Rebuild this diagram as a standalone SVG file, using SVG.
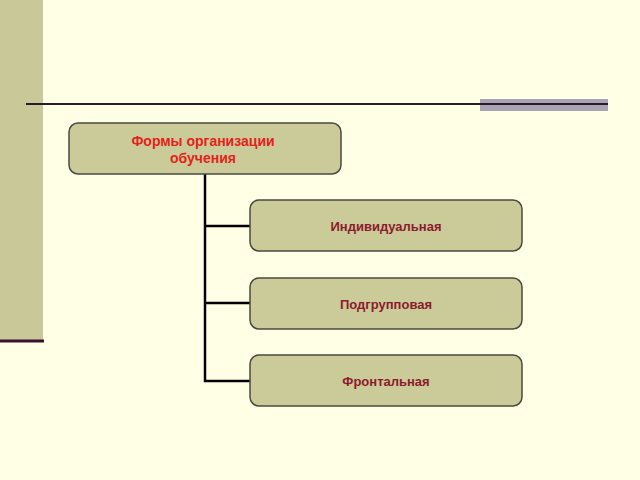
<svg xmlns="http://www.w3.org/2000/svg" width="640" height="480" viewBox="0 0 640 480">
<style>
.box{fill:#cbca99;stroke:#4a4a40;stroke-width:1.5}
.t{font-family:"Liberation Sans",Arial,sans-serif;font-size:13px;font-weight:bold;text-anchor:middle}
.main{fill:#e2231a;font-size:14px}
.sub{fill:#8a1c2c}
.c{stroke:#000;stroke-width:2.5;fill:none}
</style>
<rect width="640" height="480" fill="#ffffe6"/>
<rect x="0" y="0" width="43" height="340" fill="#c8c899"/>
<rect x="0" y="339.5" width="44" height="3" fill="#3a1030"/>
<rect x="480" y="99" width="128" height="12" fill="#a9a3b3"/>
<rect x="26" y="103" width="582" height="2" fill="#2a1a30"/>
<g id="connectors">
<path class="c" d="M205 174V381H250M205 226H250M205 303H250"/>
</g>
<g id="node-main">
<rect class="box" x="69" y="123" width="272" height="51" rx="9"/>
<text class="t main" x="203" y="146">Формы организации</text>
<text class="t main" x="203" y="163">обучения</text>
</g>
<g id="node-individual">
<rect class="box" x="250" y="200" width="272" height="51" rx="9"/>
<text class="t sub" x="386" y="231">Индивидуальная</text>
</g>
<g id="node-subgroup">
<rect class="box" x="250" y="278" width="272" height="51" rx="9"/>
<text class="t sub" x="386" y="309">Подгрупповая</text>
</g>
<g id="node-frontal">
<rect class="box" x="250" y="355" width="272" height="51" rx="9"/>
<text class="t sub" x="386" y="386">Фронтальная</text>
</g>
</svg>
